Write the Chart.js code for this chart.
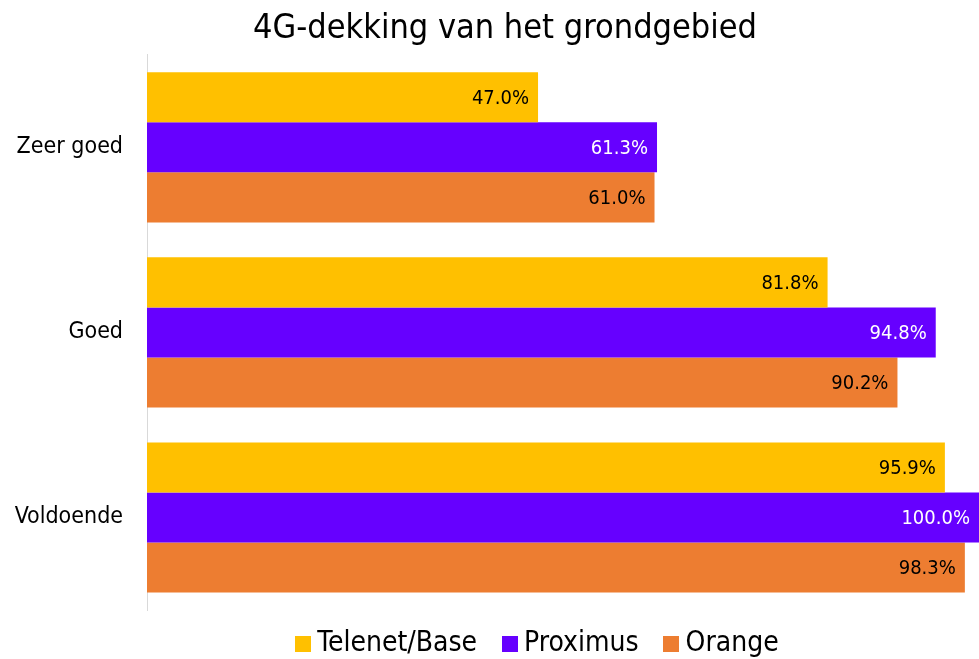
<!DOCTYPE html>
<html>
<head>
<meta charset="utf-8">
<script src="https://cdn.jsdelivr.net/npm/chart.js@4/dist/chart.umd.min.js"></script>
<style>
html,body{margin:0;padding:0;background:#fff;}
#wrap{width:979px;height:659px;position:relative;}
</style>
</head>
<body>
<div id="wrap"><canvas id="c"></canvas></div>
<script>
const categories = ["Zeer goed", "Goed", "Voldoende"];
const seriesNames = ["Telenet/Base", "Proximus", "Orange"];
const telenet = [47.0, 81.8, 95.9];
const proximus = [61.3, 94.8, 100.0];
const orange = [61.0, 90.2, 98.3];
const colors = ["#FFC000", "#6600FF", "#ED7D31"];
const labelColors = ["#000000", "#FFFFFF", "#000000"];
const FONT = "'DejaVu Sans Condensed', 'DejaVu Sans', sans-serif";

function swatch(color) {
  const cv = document.createElement('canvas');
  cv.width = 16; cv.height = 16;
  const g = cv.getContext('2d');
  g.fillStyle = color;
  g.fillRect(0, 0, 16, 16);
  return cv;
}
const swatches = colors.map(swatch);

const valueLabels = {
  id: 'valueLabels',
  afterDatasetsDraw(chart) {
    const ctx = chart.ctx;
    ctx.save();
    ctx.font = "20px " + FONT;
    ctx.textAlign = 'right';
    ctx.textBaseline = 'middle';
    chart.data.datasets.forEach((ds, i) => {
      const meta = chart.getDatasetMeta(i);
      meta.data.forEach((bar, j) => {
        ctx.fillStyle = labelColors[i];
        ctx.fillText(ds.data[j].toFixed(1) + '%', bar.x - 9, bar.y + 1);
      });
    });
    ctx.restore();
  }
};

function shiftDraw(box, dx, dy) {
  const draw = box.draw;
  box.draw = function (area) {
    const t = this.top, l = this.left, r = this.right;
    this.top = t + dy; this.left = l + dx; this.right = r + dx;
    draw.call(this, area);
    this.top = t; this.left = l; this.right = r;
  };
}

const boxTweak = {
  id: 'boxTweak',
  afterInit(chart) {
    const lg = chart.legend;
    if (lg) {
      const fit = lg.fit;
      lg.fit = function () { fit.call(this); this.height = 49; };
      shiftDraw(lg, 51, -12);
    }
    if (chart.titleBlock) shiftDraw(chart.titleBlock, 15.5, 0);
  }
};

new Chart(document.getElementById('c'), {
  type: 'bar',
  data: {
    labels: categories,
    datasets: [telenet, proximus, orange].map((d, i) => ({
      label: seriesNames[i],
      data: d,
      backgroundColor: colors[i],
      borderWidth: 0,
      categoryPercentage: 0.811,
      barPercentage: 1.0
    }))
  },
  options: {
    indexAxis: 'y',
    responsive: true,
    maintainAspectRatio: false,
    animation: false,
    layout: { padding: { left: 0, right: 0, top: 9, bottom: 0 } },
    plugins: {
      title: {
        display: true,
        text: '4G-dekking van het grondgebied',
        color: '#000',
        font: { family: FONT, size: 34, weight: 'normal' },
        padding: { top: 0, bottom: 5 }
      },
      legend: {
        position: 'bottom',
        labels: {
          color: '#000',
          font: { family: FONT, size: 28 },
          usePointStyle: true,
          boxWidth: 1,
          boxHeight: 16,
          padding: 32,
          generateLabels(chart) {
            return chart.data.datasets.map((ds, i) => ({
              text: ds.label,
              fillStyle: colors[i],
              strokeStyle: colors[i],
              lineWidth: 0,
              pointStyle: swatches[i],
              hidden: false,
              datasetIndex: i
            }));
          }
        }
      },
      tooltip: { enabled: false }
    },
    scales: {
      x: {
        display: false,
        min: 0,
        max: 100
      },
      y: {
        grid: { display: false, drawTicks: false },
        border: { display: true, color: '#d9d9d9', width: 1 },
        ticks: {
          color: '#000',
          font: { family: FONT, size: 23 },
          padding: 24
        },
        afterFit(scale) { scale.width = 147; }
      }
    }
  },
  plugins: [valueLabels, boxTweak]
});
</script>
</body>
</html>
